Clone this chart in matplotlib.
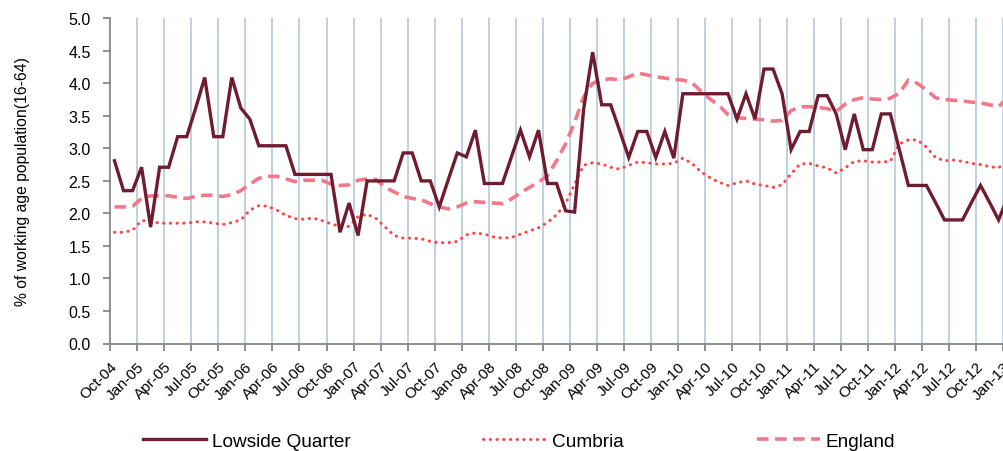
import matplotlib
matplotlib.use("Agg")
import matplotlib.pyplot as plt
import numpy as np
import pandas as pd

# monthly values, Oct-04 .. Jan-13
lowside = [2.81, 2.35, 2.35, 2.71, 1.79, 2.71, 2.71, 3.18, 3.18, 3.62,
           4.09, 3.18, 3.18, 4.09, 3.62, 3.45, 3.04, 3.04, 3.04, 3.04,
           2.60, 2.60, 2.60, 2.60, 2.60, 1.71, 2.16, 1.66, 2.50, 2.50,
           2.50, 2.50, 2.93, 2.93, 2.50, 2.50, 2.10, 2.52, 2.93, 2.87,
           3.28, 2.46, 2.46, 2.46, 2.87, 3.28, 2.87, 3.28, 2.46, 2.46,
           2.04, 2.02, 3.60, 4.48, 3.67, 3.67, 3.27, 2.86, 3.26, 3.26,
           2.86, 3.26, 2.85, 3.84, 3.84, 3.84, 3.84, 3.84, 3.84, 3.45,
           3.84, 3.45, 4.22, 4.22, 3.84, 2.98, 3.26, 3.26, 3.81, 3.81,
           3.53, 2.98, 3.53, 2.98, 2.98, 3.53, 3.53, 2.98, 2.43, 2.43,
           2.43, 2.17, 1.90, 1.90, 1.90, 2.17, 2.43, 2.17, 1.90, 2.25]

cumbria = [1.71, 1.71, 1.74, 1.89, 1.88, 1.85, 1.85, 1.85, 1.85, 1.87,
           1.87, 1.85, 1.83, 1.86, 1.90, 2.05, 2.12, 2.11, 2.05, 1.97,
           1.92, 1.91, 1.93, 1.89, 1.84, 1.80, 1.80, 1.95, 1.99, 1.92,
           1.79, 1.66, 1.62, 1.62, 1.61, 1.57, 1.55, 1.55, 1.57, 1.67,
           1.70, 1.68, 1.64, 1.62, 1.63, 1.68, 1.73, 1.78, 1.86, 1.98,
           2.15, 2.45, 2.74, 2.78, 2.76, 2.71, 2.68, 2.74, 2.79, 2.78,
           2.76, 2.76, 2.77, 2.85, 2.77, 2.64, 2.55, 2.48, 2.43, 2.47,
           2.50, 2.45, 2.43, 2.40, 2.44, 2.61, 2.76, 2.77, 2.73, 2.70,
           2.62, 2.70, 2.80, 2.81, 2.79, 2.79, 2.80, 3.07, 3.13, 3.13,
           3.02, 2.86, 2.81, 2.82, 2.80, 2.77, 2.75, 2.72, 2.70, 2.82]

england = [2.10, 2.10, 2.11, 2.23, 2.27, 2.27, 2.27, 2.25, 2.23, 2.26,
           2.28, 2.28, 2.26, 2.29, 2.35, 2.45, 2.54, 2.57, 2.57, 2.53,
           2.49, 2.51, 2.51, 2.51, 2.45, 2.43, 2.44, 2.51, 2.53, 2.52,
           2.40, 2.33, 2.26, 2.23, 2.21, 2.15, 2.10, 2.07, 2.10, 2.16,
           2.18, 2.17, 2.16, 2.15, 2.22, 2.32, 2.40, 2.48, 2.58, 2.81,
           3.07, 3.40, 3.79, 4.00, 4.05, 4.07, 4.05, 4.10, 4.16, 4.13,
           4.10, 4.08, 4.06, 4.05, 4.01, 3.88, 3.76, 3.66, 3.52, 3.47,
           3.46, 3.45, 3.44, 3.42, 3.43, 3.58, 3.64, 3.64, 3.63, 3.61,
           3.57, 3.68, 3.75, 3.78, 3.76, 3.75, 3.77, 3.85, 4.05, 4.00,
           3.90, 3.78, 3.75, 3.74, 3.73, 3.71, 3.70, 3.67, 3.64, 3.78]

tick_labels = list(pd.date_range("2004-10-01", "2013-01-01", freq="3MS").strftime("%b-%y"))

plt.rcParams["font.family"] = ["Liberation Sans", "DejaVu Sans"]

fig = plt.figure(figsize=(10.04, 4.52), dpi=100)
ax = fig.add_axes([110 / 1004, 107.5 / 452, 1 - 110 / 1004, 325.2 / 452])

x = np.arange(len(lowside)) + 0.5
ticks = np.arange(len(tick_labels)) * 3

for t in ticks[1:]:
    ax.axvline(t, color="#b9cde5", lw=1.3, zorder=0)

ax.plot(x, lowside, color="#701c30", lw=2.4, label="Lowside Quarter",
        solid_joinstyle="miter", zorder=3)
ax.plot(x, cumbria, color="#ff4545", lw=2.2, linestyle=(0, (0.1, 2.1)),
        dash_capstyle="round", label="Cumbria", zorder=2)
ax.plot(x, england, color="#f07888", lw=2.6, linestyle=(0, (3.2, 1.8)),
        label="England", zorder=2)

ax.set_xlim(0, 99.1)
ax.set_ylim(0, 5)
ax.set_yticks(np.arange(0, 5.01, 0.5))
ax.set_yticklabels([f"{v:.1f}" for v in np.arange(0, 5.01, 0.5)], fontsize=11.5)
ax.set_xticks(ticks)
ax.set_xticklabels(tick_labels, rotation=45, ha="right", rotation_mode="anchor",
                   fontsize=11)

for s in ["top", "right"]:
    ax.spines[s].set_visible(False)
for s in ["left", "bottom"]:
    ax.spines[s].set_color("#868686")
    ax.spines[s].set_linewidth(1.3)
ax.tick_params(axis="both", direction="out", length=5, width=1.3,
               color="#868686", labelcolor="black")
ax.tick_params(axis="x", pad=6)
ax.tick_params(axis="y", pad=9)

ax.set_ylabel("% of working age population(16-64)", fontsize=11.3)
ax.yaxis.set_label_coords(-0.09, 0.5)

fig.legend(loc="center left", bbox_to_anchor=(143 / 1004, 10 / 452),
           ncol=3, frameon=False, fontsize=13.7, handlelength=3.3,
           handletextpad=0.3, columnspacing=7.0, borderpad=0,
           borderaxespad=0)

fig.savefig("out.png", dpi=100)
